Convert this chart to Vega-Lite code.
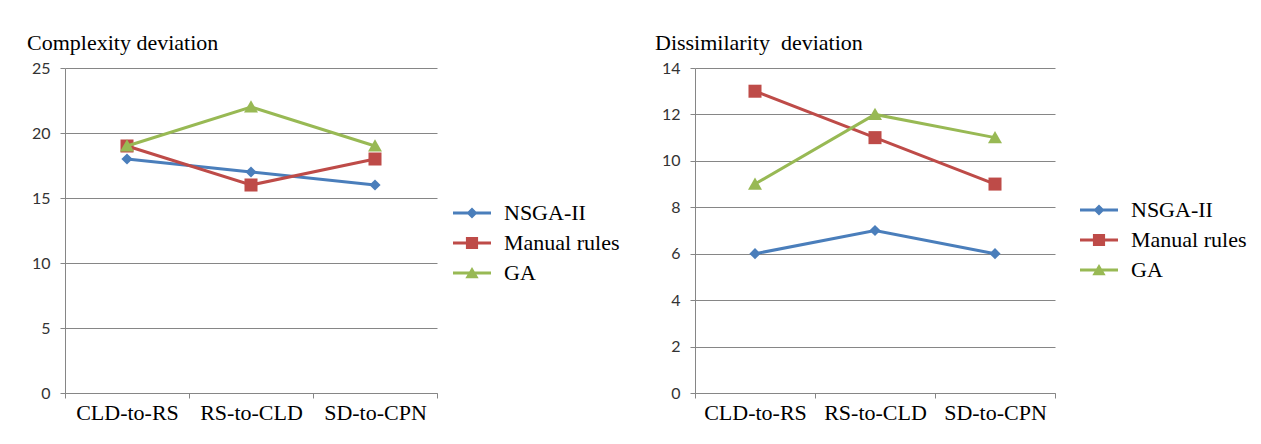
{
  "$schema": "https://vega.github.io/schema/vega-lite/v6.json",
  "autosize": {"type": "pad"},
  "padding": {"left": 27, "top": 32, "right": 0, "bottom": 0},
  "background": "white",
  "config": {
    "font": "Liberation Serif",
    "view": {"stroke": null},
    "title": {"font": "Liberation Serif", "fontSize": 22, "fontWeight": "normal", "color": "#000000", "anchor": "start", "frame": "group", "baseline": "alphabetic", "offset": 5},
    "axis": {"domainColor": "#868686", "tickColor": "#868686", "gridColor": "#868686", "domainWidth": 1, "tickWidth": 1, "gridWidth": 1, "tickSize": 5, "title": null},
    "axisY": {"labelFont": "Lato", "labelFontSize": 16, "labelColor": "#333333", "labelPadding": 10, "grid": true},
    "axisX": {"labelFont": "Liberation Serif", "labelFontSize": 22, "labelColor": "#000000", "labelPadding": 4, "grid": false, "tickBand": "extent", "labelAngle": 0},
    "legend": {"labelFont": "Liberation Serif", "labelFontSize": 22, "labelColor": "#000000", "labelOffset": 13, "symbolSize": 1444, "symbolOpacity": 1, "symbolStrokeWidth": 0, "rowPadding": -7, "padding": 0, "title": null, "orient": "none"}
  },
  "bounds": "flush",
  "spacing": 258,
  "resolve": {"scale": {"color": "independent", "shape": "independent"}, "legend": {"color": "independent", "shape": "independent"}},
  "hconcat": [
    {
      "width": 372,
      "height": 325,
      "title": {"text": "Complexity deviation", "dx": -38},
      "data": {"values": [
        {"pair": "CLD-to-RS", "method": "NSGA-II", "value": 18},
        {"pair": "RS-to-CLD", "method": "NSGA-II", "value": 17},
        {"pair": "SD-to-CPN", "method": "NSGA-II", "value": 16},
        {"pair": "CLD-to-RS", "method": "Manual rules", "value": 19},
        {"pair": "RS-to-CLD", "method": "Manual rules", "value": 16},
        {"pair": "SD-to-CPN", "method": "Manual rules", "value": 18},
        {"pair": "CLD-to-RS", "method": "GA", "value": 19},
        {"pair": "RS-to-CLD", "method": "GA", "value": 22},
        {"pair": "SD-to-CPN", "method": "GA", "value": 19}
      ]},
      "encoding": {
        "x": {"field": "pair", "type": "ordinal", "sort": ["CLD-to-RS", "RS-to-CLD", "SD-to-CPN"], "scale": {"type": "band", "paddingInner": 0, "paddingOuter": 0}},
        "y": {"field": "value", "type": "quantitative", "scale": {"domain": [0, 25], "nice": false}, "axis": {"values": [0, 5, 10, 15, 20, 25]}}
      },
      "layer": [
        {"transform": [{"filter": "false"}],
         "mark": {"type": "point", "filled": true, "opacity": 1},
         "encoding": {
           "color": {"field": "method", "type": "nominal",
             "scale": {"domain": ["NSGA-II", "Manual rules", "GA"], "range": ["#4A7EBB", "#BE4B48", "#98B954"]},
             "legend": {"legendX": 388, "legendY": 126, "labelFont": "Liberation Serif", "labelFontSize": 22, "rowPadding": -7}},
           "shape": {"field": "method", "type": "nominal",
             "scale": {"domain": ["NSGA-II", "Manual rules", "GA"], "range": [
               "M-1,-0.08H1V0.08H-1ZM0,-0.29L0.29,0L0,0.29L-0.29,0Z",
               "M-1,-0.08H1V0.08H-1ZM-0.32,-0.32H0.32V0.32H-0.32Z",
               "M-1,-0.08H1V0.08H-1ZM0,-0.32L0.35,0.28H-0.35Z"]},
             "legend": {"legendX": 388, "legendY": 126, "labelFont": "Liberation Serif", "labelFontSize": 22, "rowPadding": -7}}
         }},
        {"transform": [{"filter": "datum.method === 'NSGA-II'"}],
         "mark": {"type": "line", "strokeWidth": 3, "color": "#4A7EBB",
           "point": {"filled": true, "opacity": 1, "size": 196, "shape": "M0,-0.8L0.8,0L0,0.8L-0.8,0Z", "color": "#4A7EBB"}}},
        {"transform": [{"filter": "datum.method === 'Manual rules'"}],
         "mark": {"type": "line", "strokeWidth": 3, "color": "#BE4B48",
           "point": {"filled": true, "opacity": 1, "size": 196, "shape": "M-0.93,-0.93H0.93V0.93H-0.93Z", "color": "#BE4B48"}}},
        {"transform": [{"filter": "datum.method === 'GA'"}],
         "mark": {"type": "line", "strokeWidth": 3, "color": "#98B954",
           "point": {"filled": true, "opacity": 1, "size": 196, "shape": "M0,-0.95L1,0.8H-1Z", "color": "#98B954"}}}
      ]
    },
    {
      "width": 360,
      "height": 325,
      "title": {"text": "Dissimilarity\u00a0 deviation", "dx": -40},
      "data": {"values": [
        {"pair": "CLD-to-RS", "method": "NSGA-II", "value": 6},
        {"pair": "RS-to-CLD", "method": "NSGA-II", "value": 7},
        {"pair": "SD-to-CPN", "method": "NSGA-II", "value": 6},
        {"pair": "CLD-to-RS", "method": "Manual rules", "value": 13},
        {"pair": "RS-to-CLD", "method": "Manual rules", "value": 11},
        {"pair": "SD-to-CPN", "method": "Manual rules", "value": 9},
        {"pair": "CLD-to-RS", "method": "GA", "value": 9},
        {"pair": "RS-to-CLD", "method": "GA", "value": 12},
        {"pair": "SD-to-CPN", "method": "GA", "value": 11}
      ]},
      "encoding": {
        "x": {"field": "pair", "type": "ordinal", "sort": ["CLD-to-RS", "RS-to-CLD", "SD-to-CPN"], "scale": {"type": "band", "paddingInner": 0, "paddingOuter": 0}},
        "y": {"field": "value", "type": "quantitative", "scale": {"domain": [0, 14], "nice": false}, "axis": {"values": [0, 2, 4, 6, 8, 10, 12, 14]}}
      },
      "layer": [
        {"transform": [{"filter": "false"}],
         "mark": {"type": "point", "filled": true, "opacity": 1},
         "encoding": {
           "color": {"field": "method", "type": "nominal",
             "scale": {"domain": ["NSGA-II", "Manual rules", "GA"], "range": ["#4A7EBB", "#BE4B48", "#98B954"]},
             "legend": {"legendX": 385, "legendY": 123, "labelFont": "Liberation Serif", "labelFontSize": 22, "rowPadding": -6}},
           "shape": {"field": "method", "type": "nominal",
             "scale": {"domain": ["NSGA-II", "Manual rules", "GA"], "range": [
               "M-1,-0.08H1V0.08H-1ZM0,-0.29L0.29,0L0,0.29L-0.29,0Z",
               "M-1,-0.08H1V0.08H-1ZM-0.32,-0.32H0.32V0.32H-0.32Z",
               "M-1,-0.08H1V0.08H-1ZM0,-0.32L0.35,0.28H-0.35Z"]},
             "legend": {"legendX": 385, "legendY": 123, "labelFont": "Liberation Serif", "labelFontSize": 22, "rowPadding": -6}}
         }},
        {"transform": [{"filter": "datum.method === 'NSGA-II'"}],
         "mark": {"type": "line", "strokeWidth": 3, "color": "#4A7EBB",
           "point": {"filled": true, "opacity": 1, "size": 196, "shape": "M0,-0.8L0.8,0L0,0.8L-0.8,0Z", "color": "#4A7EBB"}}},
        {"transform": [{"filter": "datum.method === 'Manual rules'"}],
         "mark": {"type": "line", "strokeWidth": 3, "color": "#BE4B48",
           "point": {"filled": true, "opacity": 1, "size": 196, "shape": "M-0.93,-0.93H0.93V0.93H-0.93Z", "color": "#BE4B48"}}},
        {"transform": [{"filter": "datum.method === 'GA'"}],
         "mark": {"type": "line", "strokeWidth": 3, "color": "#98B954",
           "point": {"filled": true, "opacity": 1, "size": 196, "shape": "M0,-0.95L1,0.8H-1Z", "color": "#98B954"}}}
      ]
    }
  ]
}
